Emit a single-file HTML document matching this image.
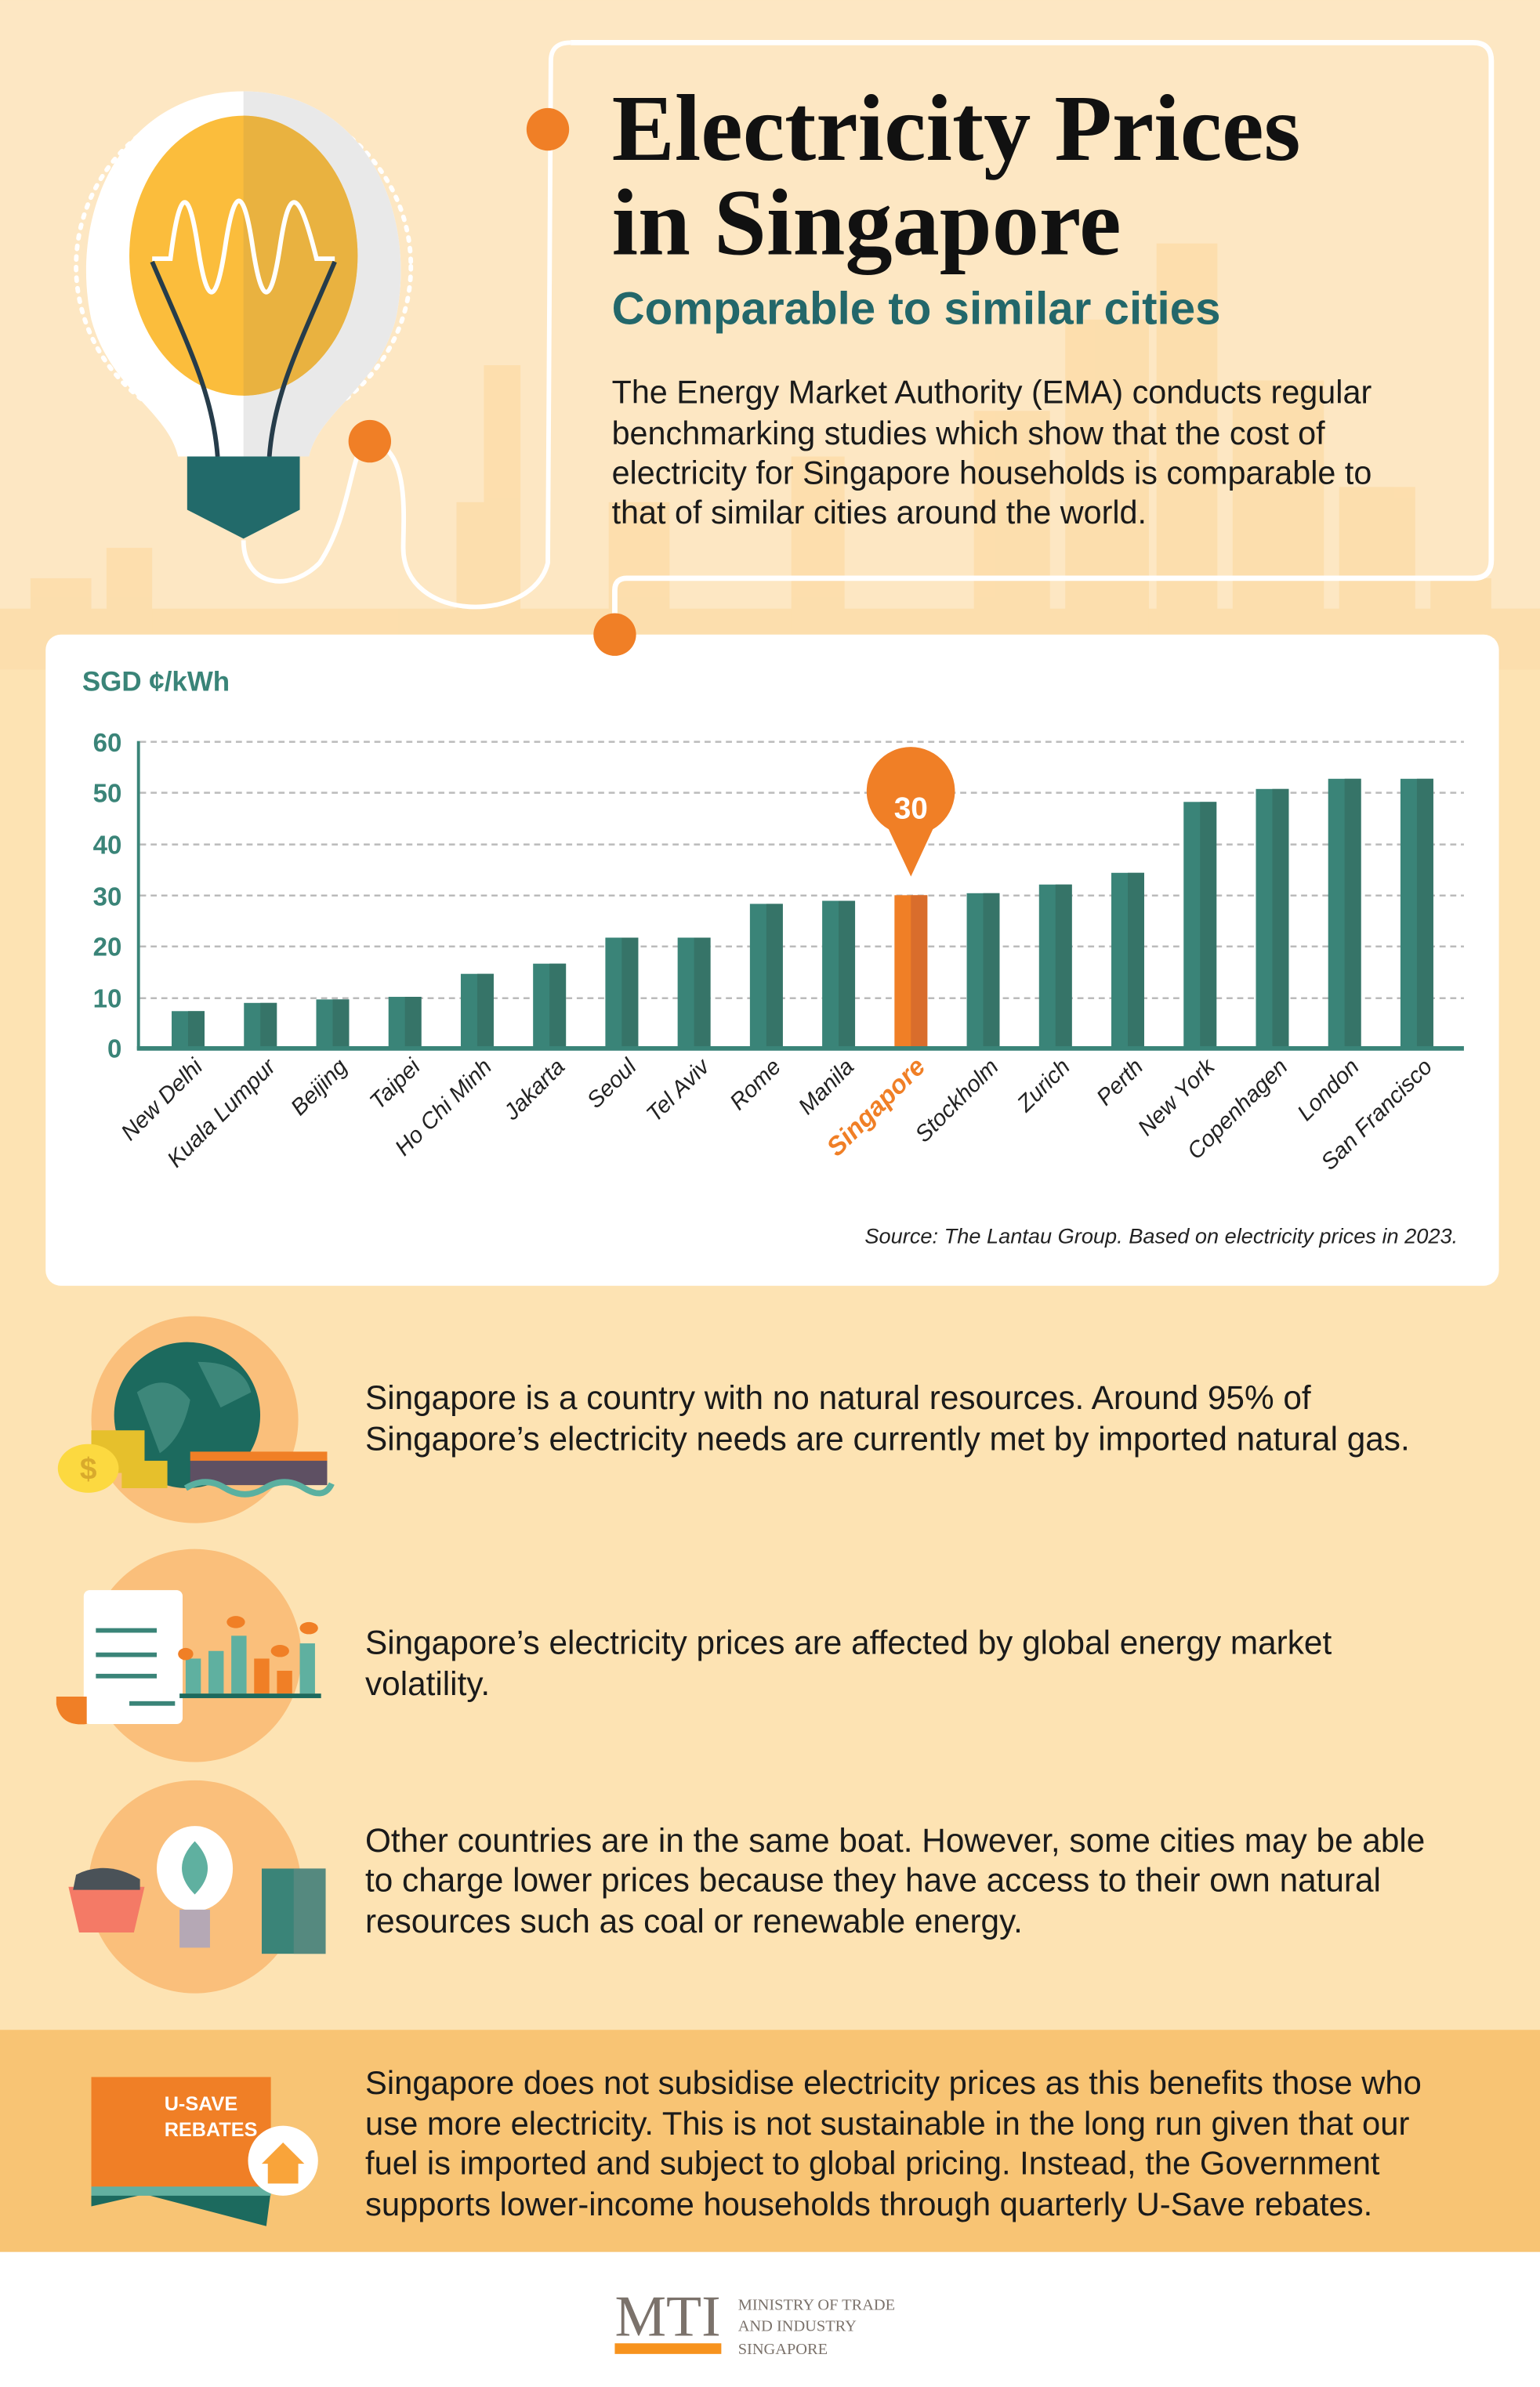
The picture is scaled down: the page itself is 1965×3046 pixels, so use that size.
<!DOCTYPE html>
<html><head><meta charset="utf-8"><style>
html,body{margin:0;padding:0;background:#fde3b5;}
svg{display:block}
</style></head><body>
<svg width="1965" height="3046" viewBox="0 0 1012 1568.7" xmlns="http://www.w3.org/2000/svg" font-family="Liberation Sans, sans-serif">
<rect x="0" y="0" width="1012" height="1569" fill="#fde3b3"/>
<rect x="0" y="0" width="1012" height="440" fill="#fde7c3"/>
<!-- skyline -->
<g fill="#fcdca8" opacity="0.8">
<rect x="0" y="400" width="1012" height="40"/>
<rect x="20" y="380" width="40" height="60"/><rect x="70" y="360" width="30" height="80"/>
<rect x="300" y="330" width="30" height="110"/><rect x="318" y="240" width="24" height="200"/>
<rect x="400" y="330" width="40" height="110"/><rect x="520" y="300" width="35" height="140"/>
<rect x="640" y="270" width="50" height="170"/><rect x="700" y="210" width="55" height="230"/>
<rect x="760" y="160" width="40" height="280"/><rect x="810" y="250" width="60" height="190"/>
<rect x="880" y="320" width="50" height="120"/><rect x="940" y="380" width="40" height="60"/>
<rect x="980" y="400" width="32" height="40"/>
</g>
<!-- bulb -->
<circle cx="160" cy="175" r="110" fill="none" stroke="#fff" stroke-width="3" stroke-dasharray="2 5" stroke-linecap="round"/>
<path d="M160 60 C80 60 45 140 60 210 C72 255 110 270 117 300 L203 300 C210 270 248 255 260 210 C275 140 240 60 160 60Z" fill="#fff"/>
<path d="M160 60 C240 60 275 140 260 210 C248 255 210 270 203 300 L160 300Z" fill="#e9e9e9"/>
<ellipse cx="160" cy="168" rx="75" ry="92" fill="#fbbd3c"/>
<path d="M160 76 A75 92 0 0 1 160 260Z" fill="#e9b240"/>
<path d="M100 170 L112 170 C118 122 124 122 130 162 C136 202 142 202 148 162 C154 122 160 122 166 162 C172 202 178 202 184 162 C190 122 196 122 208 170 L220 170" fill="none" stroke="#fff" stroke-width="3"/>
<path d="M100 172 C125 230 140 260 143 300 M220 172 C195 230 180 260 177 300" fill="none" stroke="#263c4a" stroke-width="3"/>
<path d="M123 300 L197 300 L197 335 L160 354 L123 335Z" fill="#226a6a"/>
<path d="M160 355 C160 385 190 390 210 370 C230 340 230 300 240 290 C270 290 265 340 265 360 C265 410 350 410 360 370 L362 40 Q362 28 375 28" fill="none" stroke="#fff" stroke-width="3"/>
<!-- title box -->
<path d="M375 28 L968 28 Q980 28 980 40 L980 368 Q980 380 968 380 L412 380 Q404 380 404 388 L404 417" fill="none" stroke="#fff" stroke-width="3.5"/>
<circle cx="360" cy="85" r="14" fill="#f07f26"/>
<circle cx="243" cy="290" r="14" fill="#f07f26"/>
<text x="402" y="105" font-family="Liberation Serif, serif" font-weight="bold" font-size="62" fill="#111">Electricity Prices</text>
<text x="402" y="167" font-family="Liberation Serif, serif" font-weight="bold" font-size="62" fill="#111">in Singapore</text>
<text x="402" y="213" font-weight="bold" font-size="30" fill="#23676a">Comparable to similar cities</text>
<g font-size="21.3" fill="#1a1a1a">
<text x="402" y="265">The Energy Market Authority (EMA) conducts regular</text>
<text x="402" y="292">benchmarking studies which show that the cost of</text>
<text x="402" y="318">electricity for Singapore households is comparable to</text>
<text x="402" y="344">that of similar cities around the world.</text>
</g>
<!-- chart card -->
<rect x="30" y="417" width="955" height="428" rx="10" fill="#fff"/>
<circle cx="404" cy="417" r="14" fill="#f07f26"/>
<text x="54" y="454" font-weight="bold" font-size="18" fill="#3a8478">SGD ¢/kWh</text>
<g stroke="#bbb" stroke-width="1.3" stroke-dasharray="4 3">
<line x1="92" y1="487.5" x2="962" y2="487.5"/><line x1="92" y1="521" x2="962" y2="521"/>
<line x1="92" y1="555" x2="962" y2="555"/><line x1="92" y1="588.5" x2="962" y2="588.5"/>
<line x1="92" y1="622" x2="962" y2="622"/><line x1="92" y1="656" x2="962" y2="656"/>
</g>
<g font-weight="bold" font-size="17" fill="#3a8478" text-anchor="end">
<text x="80" y="494">60</text><text x="80" y="527">50</text><text x="80" y="561">40</text>
<text x="80" y="595">30</text><text x="80" y="628">20</text><text x="80" y="662">10</text><text x="80" y="695">0</text>
</g>
<g fill="#3a8478">
<rect x="112.8" y="664.5" width="21.6" height="24.5"/>
<rect x="160.3" y="659.1" width="21.6" height="29.9"/>
<rect x="207.8" y="656.8" width="21.6" height="32.2"/>
<rect x="255.3" y="655.1" width="21.6" height="33.9"/>
<rect x="302.8" y="640" width="21.6" height="49"/>
<rect x="350.3" y="633.3" width="21.6" height="55.7"/>
<rect x="397.8" y="616.2" width="21.6" height="72.8"/>
<rect x="445.3" y="616.2" width="21.6" height="72.8"/>
<rect x="492.8" y="594" width="21.6" height="95"/>
<rect x="540.3" y="592" width="21.6" height="97"/>
<rect x="635.3" y="587" width="21.6" height="102"/>
<rect x="682.8" y="581.3" width="21.6" height="107.7"/>
<rect x="730.3" y="573.6" width="21.6" height="115.4"/>
<rect x="777.8" y="527" width="21.6" height="162"/>
<rect x="825.3" y="518.5" width="21.6" height="170.5"/>
<rect x="872.8" y="511.8" width="21.6" height="177.2"/>
<rect x="920.3" y="511.8" width="21.6" height="177.2"/>
</g>
<g fill="#367468">
<rect x="123.6" y="664.5" width="10.8" height="24.5"/><rect x="171.1" y="659.1" width="10.8" height="29.9"/>
<rect x="218.6" y="656.8" width="10.8" height="32.2"/><rect x="266.1" y="655.1" width="10.8" height="33.9"/>
<rect x="313.6" y="640" width="10.8" height="49"/><rect x="361.1" y="633.3" width="10.8" height="55.7"/>
<rect x="408.6" y="616.2" width="10.8" height="72.8"/><rect x="456.1" y="616.2" width="10.8" height="72.8"/>
<rect x="503.6" y="594" width="10.8" height="95"/><rect x="551.1" y="592" width="10.8" height="97"/>
<rect x="646.1" y="587" width="10.8" height="102"/><rect x="693.6" y="581.3" width="10.8" height="107.7"/>
<rect x="741.1" y="573.6" width="10.8" height="115.4"/><rect x="788.6" y="527" width="10.8" height="162"/>
<rect x="836.1" y="518.5" width="10.8" height="170.5"/><rect x="883.6" y="511.8" width="10.8" height="177.2"/>
<rect x="931.1" y="511.8" width="10.8" height="177.2"/>
</g>
<rect x="587.8" y="588.3" width="21.6" height="100.7" fill="#f07f26"/>
<rect x="598.6" y="588.3" width="10.8" height="100.7" fill="#d96d2c"/>
<path d="M598.6 576 L584 545 A29 29 0 1 1 613 545Z" fill="#f07f26"/>
<text x="598.6" y="538" text-anchor="middle" font-weight="bold" font-size="20" fill="#fff">30</text>
<line x1="91" y1="487" x2="91" y2="690" stroke="#3a8478" stroke-width="2"/>
<line x1="90" y1="689" x2="962" y2="689" stroke="#3a8478" stroke-width="3"/>
<g font-size="15" font-style="italic" fill="#222" text-anchor="end">
<text transform="translate(134,702) rotate(-45)">New Delhi</text>
<text transform="translate(182,702) rotate(-45)">Kuala Lumpur</text>
<text transform="translate(229,702) rotate(-45)">Beijing</text>
<text transform="translate(277,702) rotate(-45)">Taipei</text>
<text transform="translate(324,702) rotate(-45)">Ho Chi Minh</text>
<text transform="translate(372,702) rotate(-45)">Jakarta</text>
<text transform="translate(419,702) rotate(-45)">Seoul</text>
<text transform="translate(467,702) rotate(-45)">Tel Aviv</text>
<text transform="translate(514,702) rotate(-45)">Rome</text>
<text transform="translate(562,702) rotate(-45)">Manila</text>
<text transform="translate(609,702) rotate(-45)" fill="#f07f26" font-weight="bold" font-size="17">Singapore</text>
<text transform="translate(657,702) rotate(-45)">Stockholm</text>
<text transform="translate(704,702) rotate(-45)">Zurich</text>
<text transform="translate(752,702) rotate(-45)">Perth</text>
<text transform="translate(799,702) rotate(-45)">New York</text>
<text transform="translate(847,702) rotate(-45)">Copenhagen</text>
<text transform="translate(894,702) rotate(-45)">London</text>
<text transform="translate(942,702) rotate(-45)">San Francisco</text>
</g>
<text x="958" y="817" text-anchor="end" font-size="14" font-style="italic" fill="#222">Source: The Lantau Group. Based on electricity prices in 2023.</text>
<!-- section icons -->
<circle cx="128" cy="933" r="68" fill="#fabf7b"/>
<circle cx="123" cy="930" r="48" fill="#1c6a5e"/>
<path d="M90 915 Q110 900 125 920 Q120 945 105 955Z M130 895 Q160 895 165 915 L145 925Z" fill="#3d877a"/>
<rect x="60" y="940" width="35" height="28" fill="#e6c02c"/><rect x="80" y="960" width="30" height="18" fill="#e6c02c"/>
<ellipse cx="58" cy="965" rx="20" ry="16" fill="#fcd940"/><text x="58" y="972" text-anchor="middle" font-weight="bold" font-size="20" fill="#d9aa2c">$</text>
<rect x="125" y="958" width="90" height="18" fill="#5e5063"/><rect x="125" y="954" width="90" height="6" fill="#f07f26"/>
<path d="M122 978 Q135 970 148 978 T174 978 T200 978 T218 975" fill="none" stroke="#5ab0a0" stroke-width="4"/>
<circle cx="128" cy="1088" r="70" fill="#fabf7b"/>
<rect x="55" y="1045" width="65" height="88" rx="4" fill="#fff"/>
<path d="M37 1115 L57 1115 L57 1133 Q40 1135 37 1120Z" fill="#f07f26"/>
<g fill="#3a8478"><rect x="63" y="1070" width="40" height="3"/><rect x="63" y="1086" width="40" height="3"/><rect x="63" y="1100" width="40" height="3"/><rect x="85" y="1118" width="30" height="3"/></g>
<g><rect x="122" y="1090" width="10" height="23" fill="#5fb0a0"/><rect x="137" y="1085" width="10" height="28" fill="#5fb0a0"/><rect x="152" y="1075" width="10" height="38" fill="#5fb0a0"/><rect x="167" y="1090" width="10" height="23" fill="#f07f26"/><rect x="182" y="1098" width="10" height="15" fill="#f07f26"/><rect x="197" y="1080" width="10" height="33" fill="#5fb0a0"/></g>
<rect x="118" y="1113" width="93" height="3" fill="#1c6a5e"/>
<g fill="#f07f26"><ellipse cx="122" cy="1087" rx="5" ry="4"/><ellipse cx="155" cy="1066" rx="6" ry="4"/><ellipse cx="184" cy="1085" rx="6" ry="4"/><ellipse cx="203" cy="1070" rx="6" ry="4"/></g>
<circle cx="128" cy="1240" r="70" fill="#fabf7b"/>
<ellipse cx="128" cy="1228" rx="25" ry="28" fill="#fff"/><rect x="118" y="1255" width="20" height="25" fill="#b5a8b5"/>
<path d="M128 1210 Q145 1228 128 1245 Q111 1228 128 1210Z" fill="#5fb0a0"/>
<path d="M45 1240 L95 1240 L88 1270 L52 1270Z" fill="#f47a66"/><path d="M50 1232 Q70 1222 92 1235 L92 1242 L48 1242Z" fill="#4a5258"/>
<rect x="172" y="1228" width="42" height="56" fill="#3a8478"/><rect x="193" y="1228" width="21" height="56" fill="#55897f"/>
<g font-size="21.8" fill="#1a1a1a">
<text x="240" y="926">Singapore is a country with no natural resources. Around 95% of</text>
<text x="240" y="953">Singapore’s electricity needs are currently met by imported natural gas.</text>
<text x="240" y="1087">Singapore’s electricity prices are affected by global energy market</text>
<text x="240" y="1114">volatility.</text>
<text x="240" y="1217">Other countries are in the same boat. However, some cities may be able</text>
<text x="240" y="1243">to charge lower prices because they have access to their own natural</text>
<text x="240" y="1270">resources such as coal or renewable energy.</text>
</g>
<!-- bottom band -->
<rect x="0" y="1334" width="1012" height="146" fill="#f8c474"/>
<rect x="60" y="1365" width="118" height="75" fill="#f07f26"/>
<path d="M60 1440 L178 1440 L175 1463 L95 1442 L60 1450Z" fill="#1c6a5e"/>
<rect x="60" y="1437" width="118" height="6" fill="#62b0a0"/>
<text x="108" y="1387" font-weight="bold" font-size="13" fill="#fff">U-SAVE</text>
<text x="108" y="1404" font-weight="bold" font-size="13" fill="#fff">REBATES</text>
<circle cx="186" cy="1420" r="23" fill="#fff"/>
<path d="M172 1422 L186 1408 L200 1422 L196 1422 L196 1435 L176 1435 L176 1422Z" fill="#f9a43a"/>
<g font-size="21.5" fill="#1a1a1a">
<text x="240" y="1376">Singapore does not subsidise electricity prices as this benefits those who</text>
<text x="240" y="1403">use more electricity. This is not sustainable in the long run given that our</text>
<text x="240" y="1429">fuel is imported and subject to global pricing. Instead, the Government</text>
<text x="240" y="1456">supports lower-income households through quarterly U-Save rebates.</text>
</g>
<rect x="0" y="1480" width="1012" height="89" fill="#fff"/>
<text x="404" y="1535" font-family="Liberation Serif, serif" font-size="38" fill="#7b726b">MTI</text>
<rect x="404" y="1540" width="70" height="7" fill="#f7931e"/>
<g font-family="Liberation Serif, serif" font-size="10.5" fill="#7b726b">
<text x="485" y="1518">MINISTRY OF TRADE</text><text x="485" y="1532">AND INDUSTRY</text><text x="485" y="1547">SINGAPORE</text>
</g>
</svg>
</body></html>
